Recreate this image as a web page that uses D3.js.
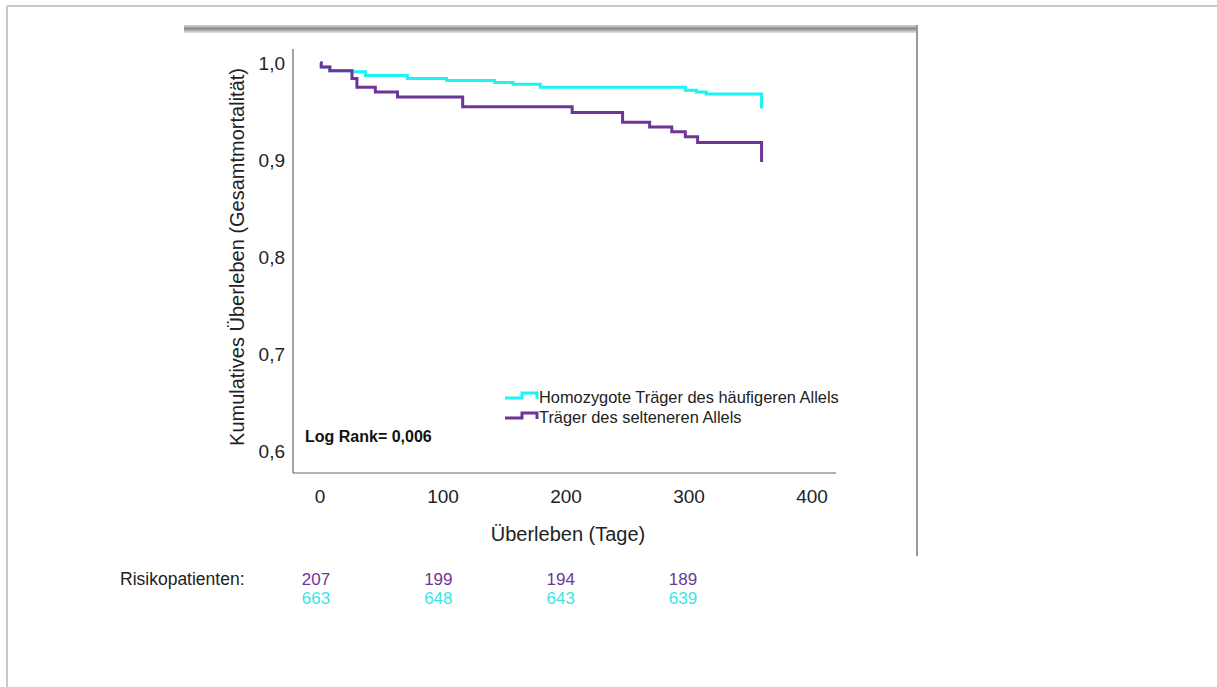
<!doctype html>
<html lang="de">
<head>
<meta charset="utf-8">
<title>Kaplan-Meier</title>
<script src="https://cdn.jsdelivr.net/npm/d3@7"></script>
<style>
  body { margin: 0; background: #fff; }
  svg text { font-family: "Liberation Sans", Arial, sans-serif; }
</style>
</head>
<body>
<div id="vis"></div>
<script>
// survival steps: [day, cumulative survival]
const commonAllele = [
  [0, 1.0], [1, 0.996], [8, 0.992], [26, 0.991], [37, 0.987], [71, 0.984],
  [103, 0.982], [142, 0.980], [157, 0.978], [179, 0.975], [297, 0.972],
  [306, 0.970], [314, 0.968], [359, 0.953]
];
const rareAllele = [
  [0, 1.0], [1, 0.996], [8, 0.992], [26, 0.984], [30, 0.975], [45, 0.970],
  [63, 0.965], [116, 0.955], [205, 0.949], [246, 0.939], [268, 0.934],
  [286, 0.929], [297, 0.924], [307, 0.918], [359, 0.898]
];
const yTicks = [0.6, 0.7, 0.8, 0.9, 1.0];
const xTicks = [0, 100, 200, 300, 400];
const seriesNames = ['Homozygote Träger des häufigeren Allels', 'Träger des selteneren Allels'];
const riskDays = [0, 100, 200, 300];
const riskRare = [207, 199, 194, 189];
const riskCommon = [663, 648, 643, 639];

const cyan = '#1ff2f2';
const purple = '#6f3596';

const W = 1217, H = 687;
const svg = d3.select('#vis').append('svg')
  .attr('width', W).attr('height', H);

// page frame
svg.append('line').attr('x1', 7).attr('y1', 6).attr('x2', W).attr('y2', 6)
  .attr('stroke', '#c8c8c8').attr('stroke-width', 2);
svg.append('line').attr('x1', 7).attr('y1', 6).attr('x2', 7).attr('y2', H)
  .attr('stroke', '#c8c8c8').attr('stroke-width', 2);

// figure panel edges
const grad = svg.append('defs').append('linearGradient')
  .attr('id', 'topbar').attr('x1', 0).attr('y1', 0).attr('x2', 0).attr('y2', 1);
grad.append('stop').attr('offset', '0%').attr('stop-color', '#d8d8d8');
grad.append('stop').attr('offset', '45%').attr('stop-color', '#8a8a8a');
grad.append('stop').attr('offset', '100%').attr('stop-color', '#e6e6e6');
svg.append('rect').attr('x', 184).attr('y', 25).attr('width', 734).attr('height', 8)
  .attr('fill', 'url(#topbar)');
svg.append('line').attr('x1', 917).attr('y1', 25).attr('x2', 917).attr('y2', 556)
  .attr('stroke', '#999').attr('stroke-width', 2);

// scales
const x = d3.scaleLinear().domain([0, 400]).range([320, 812]);
const y = d3.scaleLinear().domain([0.6, 1.0]).range([451, 63]);
const x0 = 293, x1 = 836, yBottom = 473, yTop = 49;

// axes
svg.append('line').attr('x1', x0).attr('y1', yTop).attr('x2', x0).attr('y2', yBottom)
  .attr('stroke', '#666').attr('stroke-width', 1.2);
svg.append('line').attr('x1', x0).attr('y1', yBottom).attr('x2', x1).attr('y2', yBottom)
  .attr('stroke', '#666').attr('stroke-width', 1.2);

svg.selectAll('.ytick').data(yTicks).enter().append('text')
  .attr('class', 'ytick')
  .attr('x', 285).attr('y', d => y(d)).attr('dy', '0.35em')
  .attr('text-anchor', 'end').attr('font-size', 19).attr('fill', '#222')
  .text(d => d3.format('.1f')(d).replace('.', ','));

svg.selectAll('.xtick').data(xTicks).enter().append('text')
  .attr('class', 'xtick')
  .attr('x', d => x(d)).attr('y', 503)
  .attr('text-anchor', 'middle').attr('font-size', 19).attr('fill', '#222')
  .text(d => d);

svg.append('text').attr('x', 568).attr('y', 541)
  .attr('text-anchor', 'middle').attr('font-size', 20).attr('fill', '#222')
  .text('Überleben (Tage)');

svg.append('text')
  .attr('transform', 'translate(244, 257) rotate(-90)')
  .attr('text-anchor', 'middle').attr('font-size', 20).attr('fill', '#222')
  .text('Kumulatives Überleben (Gesamtmortalität)');

// curves: step after each event, final drop at last day
function stepPoints(data) {
  const pts = [data[0]];
  for (let i = 1; i < data.length; i++) {
    pts.push([data[i][0], data[i - 1][1]], data[i]);
  }
  return pts;
}
const line = d3.line().x(d => x(d[0])).y(d => y(d[1]));
[[commonAllele, cyan], [rareAllele, purple]].forEach(([data, col]) => {
  svg.append('path')
    .attr('d', line(stepPoints(data)))
    .attr('fill', 'none').attr('stroke', col).attr('stroke-width', 3);
});

// legend
const legend = svg.append('g');
[cyan, purple].forEach((col, i) => {
  const ly = 398 + i * 20;
  legend.append('path')
    .attr('d', `M505,${ly}H522V${ly - 5}H537V${ly + 1}`)
    .attr('fill', 'none').attr('stroke', col).attr('stroke-width', 3);
  legend.append('text').attr('x', 539).attr('y', ly + 5)
    .attr('font-size', 16.4).attr('fill', '#222')
    .text(seriesNames[i]);
});

svg.append('text').attr('x', 305).attr('y', 442)
  .attr('font-size', 16).attr('font-weight', 'bold').attr('fill', '#111')
  .text('Log Rank= 0,006');

// risk table
const tx = d3.scaleLinear().domain([0, 300]).range([316, 683]);
svg.append('text').attr('x', 120).attr('y', 585)
  .attr('font-size', 17.5).attr('fill', '#222').text('Risikopatienten:');
svg.selectAll('.rr').data(riskDays).enter().append('text')
  .attr('x', d => tx(d)).attr('y', 585).attr('text-anchor', 'middle')
  .attr('font-size', 17).attr('fill', purple)
  .text((d, i) => riskRare[i]);
svg.selectAll('.rc').data(riskDays).enter().append('text')
  .attr('x', d => tx(d)).attr('y', 604).attr('text-anchor', 'middle')
  .attr('font-size', 17).attr('fill', '#3ee3e3')
  .text((d, i) => riskCommon[i]);
</script>
</body>
</html>
